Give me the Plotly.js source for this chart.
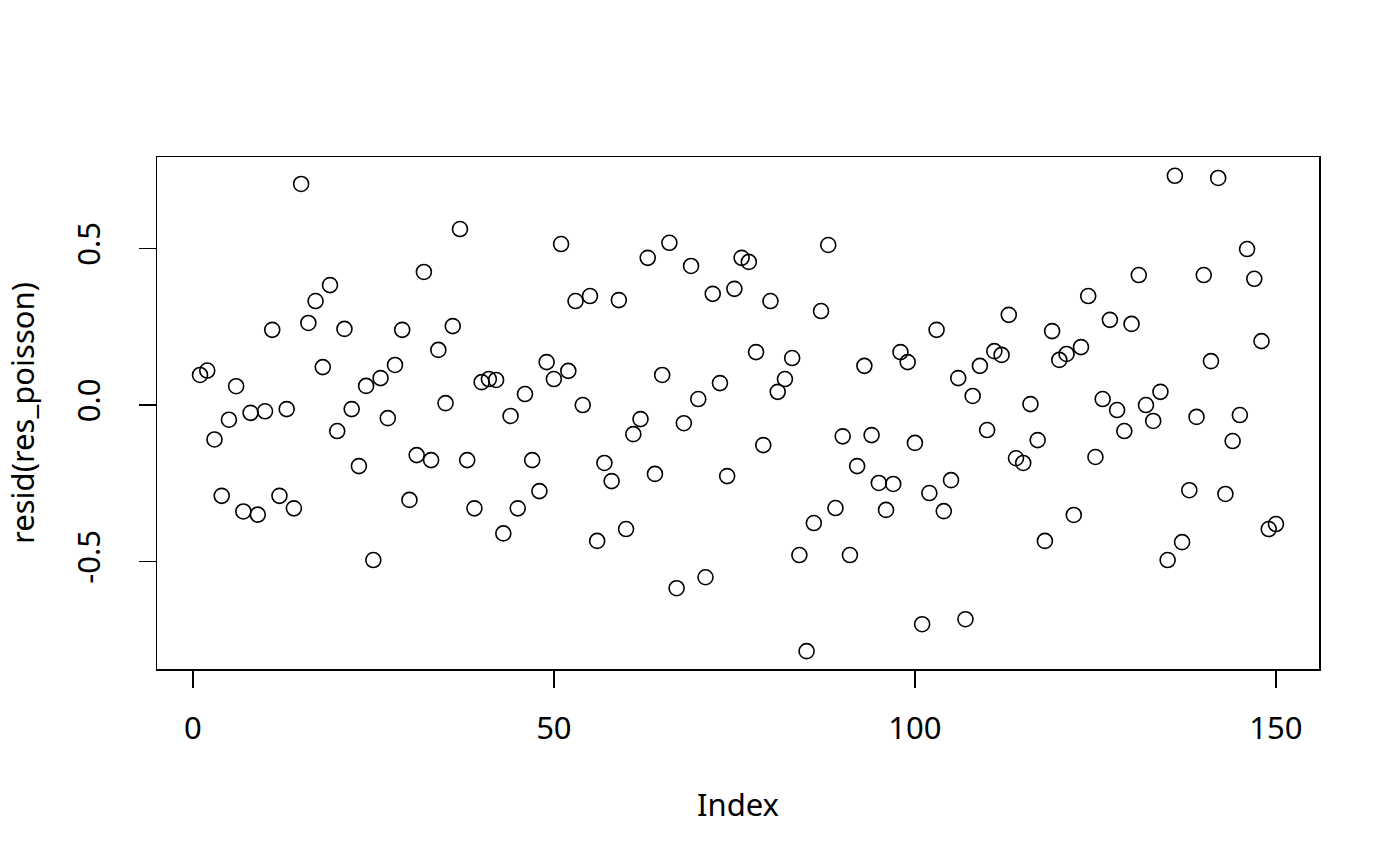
<!DOCTYPE html>
<html>
<head>
<meta charset="utf-8">
<script src="https://cdn.plot.ly/plotly-3.0.1.min.js"></script>
<style>html,body{margin:0;padding:0;background:#fff;}#chart{width:1400px;height:866px;}</style>
</head>
<body>
<div id="chart"></div>
<script>
const residuals = [
  0.096, 0.11, -0.11, -0.29, -0.047, 0.06, -0.34, -0.025, -0.35, -0.02,
  0.24, -0.29, -0.013, -0.33, 0.706, 0.262, 0.332, 0.121, 0.383, -0.083,
  0.243, -0.013, -0.195, 0.061, -0.495, 0.086, -0.042, 0.128, 0.24, -0.303,
  -0.16, 0.425, -0.176, 0.176, 0.006, 0.252, 0.562, -0.176, -0.33, 0.073,
  0.083, 0.08, -0.41, -0.035, -0.33, 0.035, -0.176, -0.275, 0.137, 0.083,
  0.514, 0.109, 0.332, 0.0, 0.348, -0.434, -0.185, -0.243, 0.335, -0.396,
  -0.093, -0.045, 0.47, -0.22, 0.096, 0.518, -0.585, -0.058, 0.444, 0.019,
  -0.55, 0.355, 0.07, -0.227, 0.371, 0.47, 0.457, 0.169, -0.128, 0.332,
  0.042, 0.083, 0.15, -0.479, -0.786, -0.377, 0.3, 0.511, -0.329, -0.1,
  -0.479, -0.195, 0.125, -0.096, -0.249, -0.335, -0.252, 0.169, 0.137, -0.121,
  -0.7, -0.281, 0.24, -0.339, -0.24, 0.086, -0.684, 0.029, 0.125, -0.08,
  0.172, 0.16, 0.288, -0.17, -0.185, 0.003, -0.112, -0.434, 0.236, 0.144,
  0.163, -0.351, 0.185, 0.348, -0.166, 0.019, 0.272, -0.016, -0.083, 0.259,
  0.415, 0.0, -0.051, 0.042, -0.495, 0.732, -0.438, -0.272, -0.038, 0.415,
  0.14, 0.725, -0.284, -0.115, -0.032, 0.498, 0.403, 0.204, -0.396, -0.38
];
const index = residuals.map((_, i) => i + 1);
const xTicks = [0, 50, 100, 150];
const yTicks = [-0.5, 0.0, 0.5];
const yTickLabels = ['-0.5', '0.0', '0.5'];
const xTitle = 'Index';
const yTitle = 'resid(res_poisson)';

const font = {family: 'Noto Sans, Open Sans, sans-serif', size: 31, color: '#000'};

Plotly.newPlot('chart', [{
  x: index, y: residuals, type: 'scatter', mode: 'markers',
  marker: {symbol: 'circle-open', size: 15, color: '#000', line: {width: 1.6, color: '#000'}},
  hoverinfo: 'x+y'
}], {
  width: 1400, height: 866,
  margin: {l: 157, r: 81, t: 157, b: 197},
  paper_bgcolor: '#fff', plot_bgcolor: '#fff',
  font: font,
  showlegend: false,
  xaxis: {
    range: [-4.96, 155.96], tickvals: xTicks, ticktext: xTicks.map(String),
    showgrid: false, zeroline: false, showline: true, mirror: true,
    linecolor: '#000', linewidth: 1.5, ticks: 'outside', ticklen: 17, tickwidth: 1.5, tickcolor: '#000',
    ticklabelstandoff: 14,
    tickfont: font,
    title: {text: xTitle, font: font, standoff: 47}
  },
  yaxis: {
    range: [-0.843, 0.792], tickvals: yTicks, ticktext: yTickLabels, tickangle: -90,
    showgrid: false, zeroline: false, showline: true, mirror: true,
    linecolor: '#000', linewidth: 1.5, ticks: 'outside', ticklen: 17, tickwidth: 1.5, tickcolor: '#000',
    ticklabelstandoff: 26,
    tickfont: font,
    title: {text: yTitle, font: font, standoff: 23}
  }
}, {displayModeBar: false, staticPlot: true});
</script>
</body>
</html>
